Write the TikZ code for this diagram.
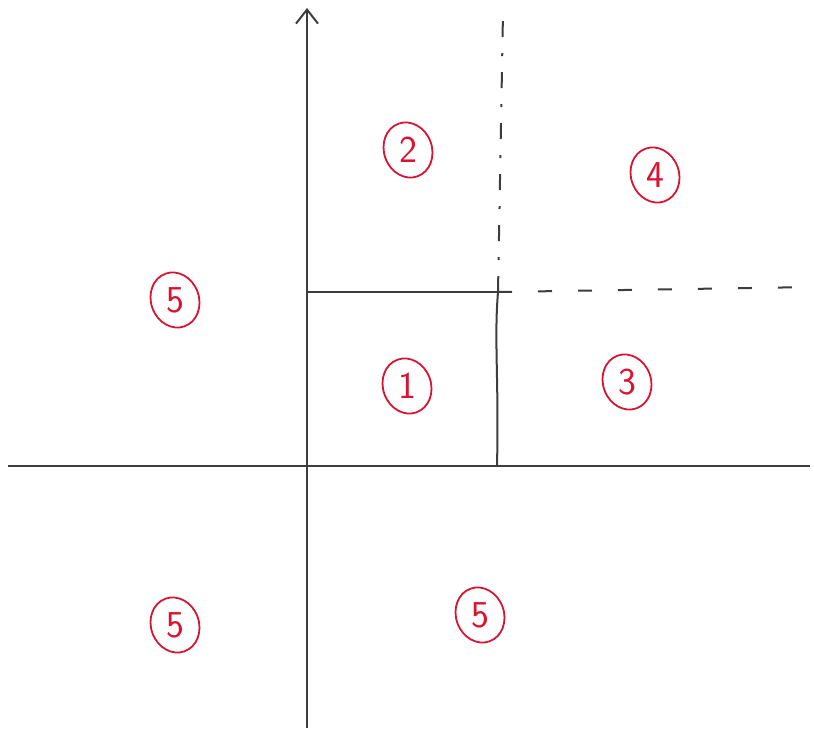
\documentclass[tikz,border=0pt]{standalone}
\usetikzlibrary{shapes.geometric,arrows.meta}
\definecolor{ink}{RGB}{60,62,60}
\definecolor{redink}{RGB}{215,20,50}
\tikzset{
  axis/.style={draw=ink, line width=2.2pt},
  edge/.style={draw=ink, line width=2pt},
  dashdot/.style={draw=ink, line width=2pt, dash pattern=on 16pt off 16pt on 3pt off 16pt},
  dashline/.style={draw=ink, line width=2pt, dash pattern=on 14pt off 26pt},
  region/.style={ellipse, draw=redink, line width=1.8pt, text=redink, minimum width=48pt, minimum height=56pt, inner sep=0pt, font=\fontsize{38}{40}\selectfont\sffamily, rotate=20}
}
\begin{document}
\begin{tikzpicture}[x=1pt,y=-1pt]
\useasboundingbox (0,0) rectangle (814,733);
% axes
\coordinate (xl) at (8,466);
\coordinate (xr) at (810,466);
\coordinate (yb) at (307,728);
\coordinate (yt) at (307,8);
\draw[axis] (xl) -- (xr);
\draw[axis, -{Straight Barb[length=14pt,width=22pt,line width=2pt]}] (yb) -- (yt);
% region boundaries
\coordinate (a) at (307,292);
\coordinate (b) at (498,292);
\coordinate (c) at (497,466);
\coordinate (d) at (503,12);
\coordinate (e) at (814,287);
\draw[edge] (a) -- (b);
\draw[edge] (b) .. controls (494,340) and (499,380) .. (c);
\draw[dashdot] (b) -- (d);
\draw[dashline] (b) -- (e);
% labels
\node[region] (r2) at (408,150) {\rotatebox{-20}{2}};
\node[region] (r4) at (655,175) {\rotatebox{-20}{4}};
\node[region] (r5a) at (175,300) {\rotatebox{-20}{5}};
\node[region] (r1) at (407,386) {\rotatebox{-20}{1}};
\node[region] (r3) at (627,382) {\rotatebox{-20}{3}};
\node[region] (r5b) at (175,625) {\rotatebox{-20}{5}};
\node[region] (r5c) at (480,615) {\rotatebox{-20}{5}};
\end{tikzpicture}
\end{document}
